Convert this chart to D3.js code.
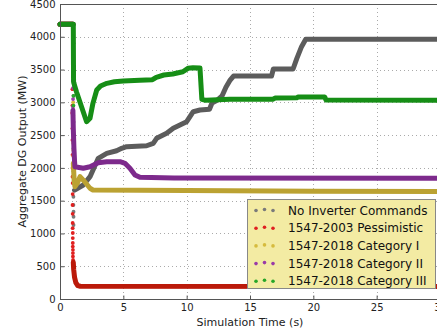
<!DOCTYPE html>
<html>
<head>
<meta charset="utf-8">
<script src="https://cdn.jsdelivr.net/npm/d3@7"></script>
<style>
  body { margin: 0; background: #fff; }
  svg { display: block; font-family: "DejaVu Sans", sans-serif; }
</style>
</head>
<body>
<svg id="chart" width="437" height="329"></svg>
<script>
var xTicks = [0, 5, 10, 15, 20, 25, 30];
var yTicks = [0, 500, 1000, 1500, 2000, 2500, 3000, 3500, 4000, 4500];

var seriesNames = ["No Inverter Commands", "1547-2003 Pessimistic", "1547-2018 Category I",
                   "1547-2018 Category II", "1547-2018 Category III"];

// [time (s), aggregate DG output (MW)]; null = gap (sparse samples during the fault)
var noInverterPts = [[0, 4190], [1.05, 4190], null, [1.15, 1660], [1.84, 1739], [2.37, 1866], [3.02, 2146],
  [3.69, 2222], [4.47, 2262], [4.87, 2298], [5.26, 2323], [6.84, 2338], [7.36, 2375], [7.63, 2451],
  [8.42, 2527], [8.94, 2604], [9.47, 2654], [10.0, 2704], [10.26, 2781], [10.52, 2857], [11.05, 2883],
  [11.8, 2895], [12.0, 2990], [12.4, 3030], [12.8, 3100], [13.1, 3230], [13.4, 3330], [13.7, 3401],
  [16.7, 3401], [16.84, 3508], [18.4, 3508], [18.7, 3671], [19.07, 3849], [19.4, 3961], [30, 3961]];
var pess2003Pts = [[0, 4190], [1.0, 4190], null, [1.05, 560], [1.08, 450], [1.15, 330], [1.25, 250],
  [1.4, 205], [1.6, 195], [30, 192]];
var cat1Pts = [[0, 4190], [1.0, 4190], null, [1.05, 2070], [1.12, 1800], [1.18, 1713], [1.4, 1780],
  [1.58, 1866], [1.9, 1800], [2.37, 1689], [2.6, 1663], [10, 1655], [20, 1645], [30, 1640]];
var cat2Pts = [[0, 4190], [1.0, 4190], null, [1.02, 2880], [1.05, 2600], [1.1, 2300], [1.15, 2100],
  [1.18, 2018], [1.84, 1994], [2.37, 2018], [3.02, 2079], [3.69, 2094], [4.74, 2094], [5.13, 2070],
  [5.52, 1994], [5.92, 1891], [6.31, 1856], [9, 1845], [30, 1840]];
var cat3Pts = [[0, 4190], [1.05, 4190], [1.07, 3315], [1.1, 3290], [1.18, 3238], [1.3, 3162],
  [1.7, 2933], [2.1, 2704], [2.37, 2756], [2.6, 2985], [2.9, 3188], [3.2, 3249], [3.7, 3290],
  [4.3, 3315], [5, 3325], [6.3, 3335], [7.3, 3345], [7.6, 3382], [8.2, 3417], [8.9, 3432],
  [9.7, 3467], [10.1, 3519], [10.5, 3528], [11.05, 3525], [11.2, 3046], [11.5, 3030], [13.4, 3046],
  [16.8, 3046], [17, 3065], [18.7, 3070], [18.8, 3080], [20.9, 3080], [21.0, 3035], [30, 3030]];

// sparse samples during the fault transient (drawn as single dots)
var noInverterDrop = [[1.07, 3900], [1.07, 3500], [1.07, 3100], [1.07, 2700], [1.07, 2300],
  [1.07, 1950], [1.06, 1560], [1.06, 1434], [1.07, 1332], [1.07, 1255], [1.07, 1129]];
var pess2003Drop = [[0.98, 3200], [0.98, 2950], [0.97, 2837], [0.98, 2600], [0.98, 2425],
  [0.99, 2200], [0.99, 2000], [0.99, 1866], [1.0, 1769], [1.0, 1600], [0.99, 1434], [1.0, 1300],
  [1.0, 1159], [1.0, 1080], [1.01, 1007], [1.01, 930], [1.01, 854], [1.01, 800], [1.02, 750],
  [1.02, 700], [1.02, 650], [1.03, 595]];
var cat1Drop = [[1.04, 3000], [1.04, 2800], [1.03, 2552], [1.04, 2527], [1.04, 2380], [1.05, 2273],
  [1.05, 2180]];
var cat2Drop = [[1.03, 3600], [1.03, 3467], [1.03, 3340], [1.04, 3220], [1.03, 3050], [1.02, 2933]];
var cat3Drop = [[1.06, 3100], [1.06, 2950]];

var lineColors = ["#5c5c5c", "#bb1a0a", "#bba232", "#7d2a8c", "#168e16"];
var dotColors = ["#7a7a7a", "#e02020", "#d6bb3e", "#9a3aa8", "#28a628"];

var allPts = [noInverterPts, pess2003Pts, cat1Pts, cat2Pts, cat3Pts];
var allDrops = [noInverterDrop, pess2003Drop, cat1Drop, cat2Drop, cat3Drop];

var svg = d3.select("#chart");
var margin = {left: 60, top: 4, right: 440, bottom: 299};

var x = d3.scaleLinear().domain([0, 30]).range([margin.left, margin.right]);
var y = d3.scaleLinear().domain([0, 4500]).range([margin.bottom, margin.top]);

// grid
svg.append("g").selectAll("line")
  .data(xTicks.slice(1, -1))
  .enter().append("line")
    .attr("x1", function(d) { return Math.round(x(d)) + 0.5; })
    .attr("x2", function(d) { return Math.round(x(d)) + 0.5; })
    .attr("y1", margin.top).attr("y2", margin.bottom)
    .attr("stroke", "#aaa").attr("stroke-dasharray", "1,3");
svg.append("g").selectAll("line")
  .data(yTicks.slice(1, -1))
  .enter().append("line")
    .attr("y1", function(d) { return Math.round(y(d)) + 0.5; })
    .attr("y2", function(d) { return Math.round(y(d)) + 0.5; })
    .attr("x1", margin.left).attr("x2", margin.right)
    .attr("stroke", "#aaa").attr("stroke-dasharray", "1,3");

var line = d3.line()
  .defined(function(d) { return d !== null; })
  .x(function(d) { return x(d[0]); })
  .y(function(d) { return y(d[1]); });

allPts.forEach(function(pts, i) {
  svg.append("g").selectAll("circle")
    .data(allDrops[i])
    .enter().append("circle")
      .attr("cx", function(d) { return x(d[0]); })
      .attr("cy", function(d) { return y(d[1]); })
      .attr("r", 1.9)
      .attr("fill", dotColors[i]);
  svg.append("path")
    .datum(pts)
    .attr("d", line)
    .attr("fill", "none")
    .attr("stroke", lineColors[i])
    .attr("stroke-width", 5)
    .attr("stroke-linejoin", "round")
    .attr("stroke-linecap", "round");
});

// spines
svg.append("rect")
  .attr("x", margin.left + 0.5).attr("y", margin.top + 0.5)
  .attr("width", margin.right - margin.left).attr("height", margin.bottom - margin.top)
  .attr("fill", "none").attr("stroke", "#555").attr("stroke-width", 1);

// axes
var fmt = d3.format("d");
var xAxis = svg.append("g")
  .attr("transform", "translate(0," + (margin.bottom + 0.5) + ")")
  .call(d3.axisBottom(x).tickValues(xTicks).tickFormat(fmt).tickSize(-4).tickPadding(4));
var yAxis = svg.append("g")
  .attr("transform", "translate(" + (margin.left + 0.5) + ",0)")
  .call(d3.axisLeft(y).tickValues(yTicks).tickFormat(fmt).tickSize(-4).tickPadding(5));
[xAxis, yAxis].forEach(function(a) {
  a.select(".domain").remove();
  a.selectAll(".tick line").attr("stroke", "#555");
  a.selectAll("text").attr("font-size", "10px").attr("font-family", "DejaVu Sans").attr("fill", "#222");
});

svg.append("text")
  .attr("x", x(15)).attr("y", 326)
  .attr("text-anchor", "middle").attr("font-size", "11px").attr("fill", "#222")
  .text("Simulation Time (s)");
svg.append("text")
  .attr("transform", "translate(25.5," + ((margin.top + margin.bottom) / 2) + ") rotate(-90)")
  .attr("text-anchor", "middle").attr("font-size", "11px").attr("fill", "#222")
  .text("Aggregate DG Output (MW)");

// legend
var legend = svg.append("g");
legend.append("rect")
  .attr("x", 247.5).attr("y", 199.5).attr("width", 188).attr("height", 89)
  .attr("fill", "#f3eba3").attr("stroke", "#888");
var row = legend.selectAll("g.row")
  .data(seriesNames)
  .enter().append("g")
    .attr("class", "row")
    .attr("transform", function(d, i) { return "translate(0," + (210 + i * 17.7) + ")"; });
row.selectAll("circle")
  .data(function(d, i) { return [256, 264.5, 273].map(function(cx) { return {cx: cx, i: i}; }); })
  .enter().append("circle")
    .attr("cx", function(d) { return d.cx; })
    .attr("cy", function(d, j) { return j === 1 ? -0.5 : 0.5; })
    .attr("r", 1.8)
    .attr("fill", function(d) { return dotColors[d.i]; });
row.append("text")
  .attr("x", 288).attr("y", 4.5)
  .attr("font-size", "12px").attr("fill", "#111")
  .text(function(d) { return d; });
</script>
</body>
</html>
